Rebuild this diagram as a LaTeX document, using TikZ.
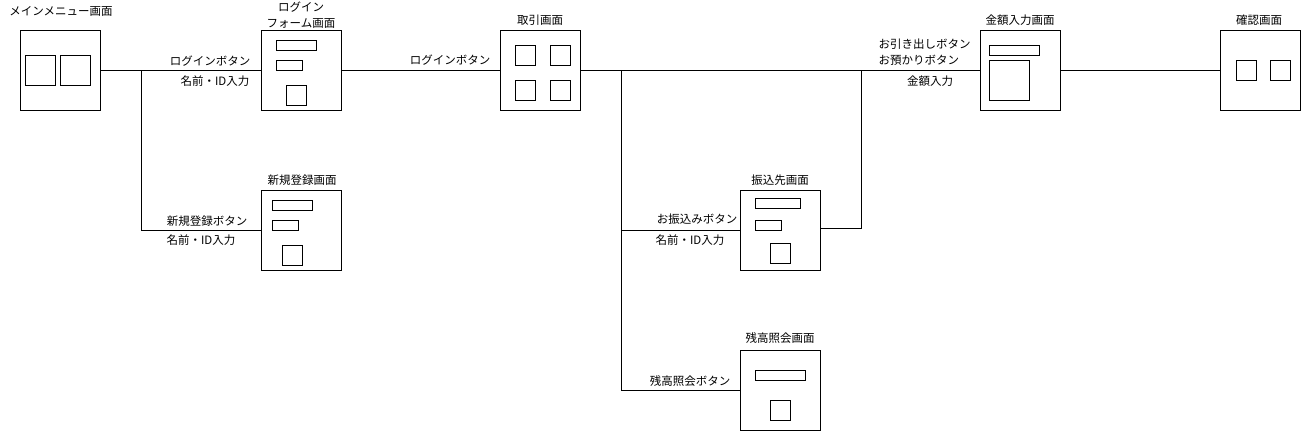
\documentclass[tikz,border=0pt]{standalone}
\usepackage{fontspec}
\setmainfont{Noto Sans CJK JP}
\begin{document}
\begin{tikzpicture}[x=1pt,y=-1pt,line width=1pt,
  screen/.style={draw,rectangle,minimum width=80pt,minimum height=80pt,inner sep=0pt},
  txt/.style={inner sep=0pt,font=\fontsize{11.5pt}{16pt}\selectfont,align=center},
  wire/.style={draw,line width=1pt}]
\useasboundingbox (0,0) rectangle (1301,431);
% screens
\node[screen] (main) at (60,70) {};
\node[screen] (login) at (301,70) {};
\node[screen] (newreg) at (301.5,230) {};
\node[screen] (trans) at (540.5,70) {};
\node[screen] (transfer) at (780.7,230) {};
\node[screen] (balance) at (780.7,390) {};
\node[screen] (amount) at (1020,70) {};
\node[screen] (confirm) at (1260,70) {};
% inner parts
\draw (25.5,55.5) rectangle (55.5,85.5);
\draw (60.5,55.5) rectangle (90.5,85.5);
\draw (276,40.5) rectangle (316,50.5);
\draw (276,60.5) rectangle (302,70.5);
\draw (286,85.5) rectangle (306,105.5);
\draw (272.5,200.5) rectangle (312.5,210.5);
\draw (272.5,220.5) rectangle (298.5,230.5);
\draw (282.5,245.5) rectangle (302.5,265.5);
\draw (515.5,45.5) rectangle (535.5,65.5);
\draw (550.5,45.5) rectangle (570.5,65.5);
\draw (515.5,80.5) rectangle (535.5,100.5);
\draw (550.5,80.5) rectangle (570.5,100.5);
\draw (755.7,198.5) rectangle (800.7,208);
\draw (755.7,220.5) rectangle (781.7,230.5);
\draw (770.7,243) rectangle (790.7,263);
\draw (755.7,370.5) rectangle (805.7,380.5);
\draw (770.7,400.5) rectangle (790.7,420.5);
\draw (989.5,45.5) rectangle (1039.5,55.5);
\draw (989.5,60.5) rectangle (1029.5,100.5);
\draw (1236,60.5) rectangle (1256,80.5);
\draw (1270.5,60.5) rectangle (1290.5,80.5);
% titles
\node[txt] (tmain) at (61,11) {メインメニュー画面};
\node[txt] (tlogin) at (301,15) {ログイン\\フォーム画面};
\node[txt] (tnewreg) at (302,180) {新規登録画面};
\node[txt] (ttrans) at (540,20) {取引画面};
\node[txt] (ttransfer) at (780,180) {振込先画面};
\node[txt] (tbalance) at (780,338) {残高照会画面};
\node[txt] (tamount) at (1020,20) {金額入力画面};
\node[txt] (tconfirm) at (1259,20) {確認画面};
% connectors
\coordinate (b1) at (141,70);
\coordinate (b2) at (621,70);
\coordinate (b3) at (861,70);
\draw[wire] (main.east) -- (login.west);
\draw[wire] (b1) |- (newreg.west);
\draw[wire] (login.east) -- (trans.west);
\draw[wire] (trans.east) -- (amount.west);
\draw[wire] (b2) |- (transfer.west);
\draw[wire] (b2) |- (balance.west);
\draw[wire] ([yshift=2pt]transfer.east) -| (b3);
\draw[wire] (amount.east) -- (confirm.west);
% connector labels
\node[txt] (l1a) at (210,61) {ログインボタン};
\node[txt] (l1b) at (215,81) {名前・ID入力};
\node[txt] (l2a) at (207,221) {新規登録ボタン};
\node[txt] (l2b) at (201,240) {名前・ID入力};
\node[txt] (l3) at (450,60) {ログインボタン};
\node[txt] (l4a) at (697,219) {お振込みボタン};
\node[txt] (l4b) at (690,240) {名前・ID入力};
\node[txt] (l5) at (690,381) {残高照会ボタン};
\node[txt,align=left,anchor=west] (l6a) at (878,52) {お引き出しボタン\\お預かりボタン};
\node[txt] (l6b) at (930,81) {金額入力};
\end{tikzpicture}
\end{document}
